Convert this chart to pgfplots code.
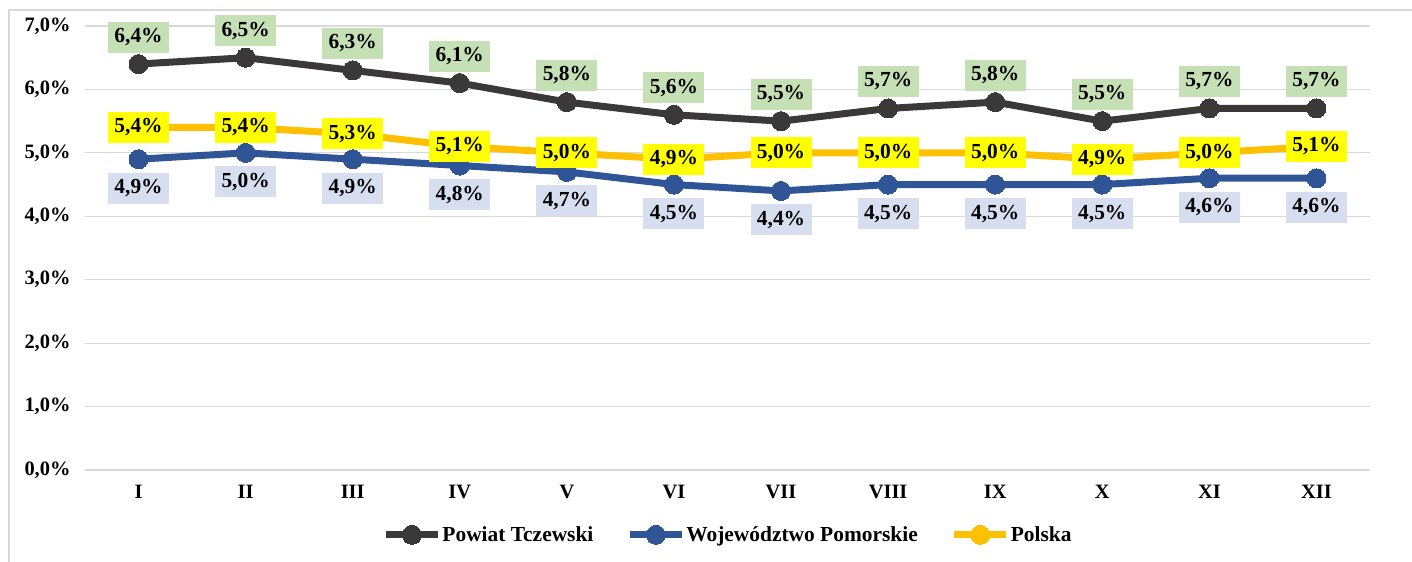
\documentclass[border=0pt]{standalone}
\usepackage{pgfplots}
\pgfplotsset{compat=1.18}
\usepackage{fontspec}
\setmainfont{Liberation Serif}
\definecolor{cdark}{HTML}{3A3838}
\definecolor{cblue}{HTML}{2F5597}
\definecolor{cyel}{HTML}{FFC000}
\definecolor{lgreen}{HTML}{C5E0B4}
\definecolor{lblue}{HTML}{D6DEF0}
\definecolor{lyel}{HTML}{FFFF00}
\definecolor{gridgray}{HTML}{D9D9D9}
\pgfplotsset{
  lbl/.style 2 args={draw=none, forget plot, point meta=y,
    nodes near coords={\pgfmathprintnumber{\pgfplotspointmeta}\%},
    nodes near coords align=center,
    every node near coord/.append style={anchor=center, fill=#1, text=black, font=\fontsize{21.5}{24}\selectfont\bfseries, minimum height=31bp, minimum width=61bp, inner sep=0pt, yshift=#2}},
  ser/.style={#1, line width=7bp, line join=round, mark=*, mark size=9.5bp, mark options={solid, fill=#1, draw=#1, line width=0pt}},
}
\begin{document}
\begin{tikzpicture}[font=\fontsize{20.5}{23}\selectfont\bfseries]
\begin{axis}[
  at={(0,0)}, anchor=south west,
  scale only axis, width=1285bp, height=444bp,
  xmin=-0.5, xmax=11.5, ymin=0, ymax=7,
  xtick={0,...,11},
  xticklabels={I,II,III,IV,V,VI,VII,VIII,IX,X,XI,XII},
  ytick={0,...,7},
  ymajorgrids, grid style={draw=gridgray, line width=1.2bp},
  axis line style={draw=none},
  major tick length=0pt,
  clip=false,
  /pgf/number format/.cd, use comma, fixed, fixed zerofill, precision=1, assume math mode=true,
  /pgfplots/.cd,
  yticklabel={\pgfmathprintnumber{\tick}\%},
  yticklabel style={xshift=-11bp},
  xticklabel style={yshift=-12bp},
  legend style={at={(0.5,-0.146)}, anchor=center, draw=none, fill=none,
    legend columns=3, font=\fontsize{21.5}{24}\selectfont\bfseries,
    nodes={inner xsep=1bp},
    /tikz/every even column/.append style={column sep=32bp}},
  legend cell align=left,
  legend image code/.code={\draw[mark repeat=2,mark phase=2,#1] plot coordinates {(0bp,0bp) (26bp,0bp) (52bp,0bp)};},
]
\addplot[ser=cdark]
  coordinates {(0,6.4) (1,6.5) (2,6.3) (3,6.1) (4,5.8) (5,5.6) (6,5.5) (7,5.7) (8,5.8) (9,5.5) (10,5.7) (11,5.7)};
\addlegendentry{Powiat Tczewski}
\addplot[ser=cyel, forget plot]
  coordinates {(0,5.4) (1,5.4) (2,5.3) (3,5.1) (4,5.0) (5,4.9) (6,5.0) (7,5.0) (8,5.0) (9,4.9) (10,5.0) (11,5.1)};
\addplot[ser=cblue]
  coordinates {(0,4.9) (1,5.0) (2,4.9) (3,4.8) (4,4.7) (5,4.5) (6,4.4) (7,4.5) (8,4.5) (9,4.5) (10,4.6) (11,4.6)};
\addlegendentry{Województwo Pomorskie}
\addlegendimage{ser=cyel}
\addlegendentry{Polska}
% data labels
\addplot[lbl={lgreen}{27bp}]
  coordinates {(0,6.4) (1,6.5) (2,6.3) (3,6.1) (4,5.8) (5,5.6) (6,5.5) (7,5.7) (8,5.8) (9,5.5) (10,5.7) (11,5.7)};
\addplot[lbl={lblue}{-29bp}]
  coordinates {(0,4.9) (1,5.0) (2,4.9) (3,4.8) (4,4.7) (5,4.5) (6,4.4) (7,4.5) (8,4.5) (9,4.5) (10,4.6) (11,4.6)};
\addplot[lbl={lyel}{0bp}]
  coordinates {(0,5.4) (1,5.4) (2,5.3) (3,5.1) (4,5.0) (5,4.9) (6,5.0) (7,5.0) (8,5.0) (9,4.9) (10,5.0) (11,5.1)};
\end{axis}
\draw[gridgray, line width=1.5bp] (-76bp,-92bp) -- (-76bp,460bp) -- (1327bp,460bp);
\pgfresetboundingbox
\path[use as bounding box] (-85bp,-92bp) rectangle (1327bp,470bp);
\end{tikzpicture}
\end{document}
